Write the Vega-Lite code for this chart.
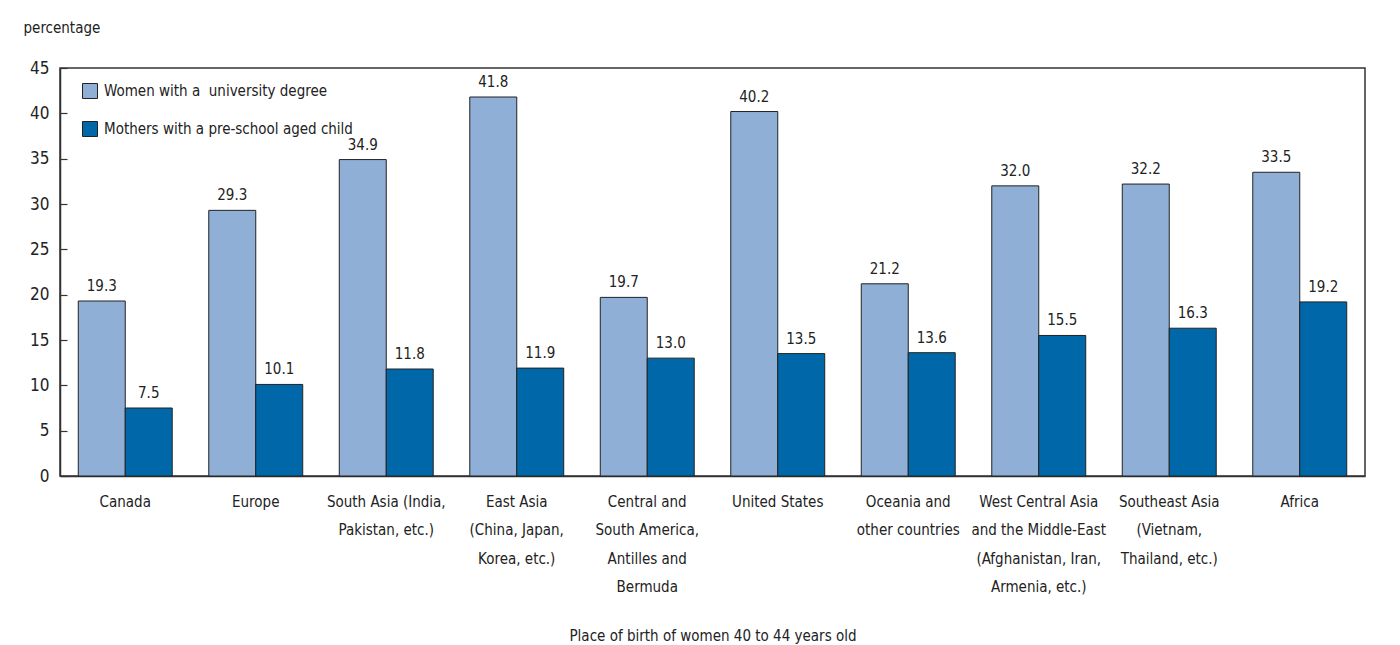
{
  "$schema": "https://vega.github.io/schema/vega-lite/v6.json",
  "width": 1305,
  "height": 408,
  "autosize": {"type": "none"},
  "padding": {"left": 60, "top": 68, "right": 35, "bottom": 169},
  "background": "white",
  "config": {
    "font": "DejaVu Sans Condensed",
    "view": {"stroke": "#333", "strokeWidth": 1.5},
    "axis": {
      "labelColor": "#222",
      "titleColor": "#222",
      "labelFontSize": 15,
      "titleFontSize": 15,
      "titleFontWeight": "normal",
      "domainColor": "#333",
      "domainWidth": 1.5,
      "tickColor": "#333",
      "tickWidth": 1.2,
      "grid": false
    }
  },
  "data": {
    "values": [
      {"place": "Canada", "group": "Women with a\u00a0 university degree", "pct": 19.3},
      {"place": "Canada", "group": "Mothers with a pre-school aged child", "pct": 7.5},
      {"place": "Europe", "group": "Women with a\u00a0 university degree", "pct": 29.3},
      {"place": "Europe", "group": "Mothers with a pre-school aged child", "pct": 10.1},
      {"place": "South Asia (India,\nPakistan, etc.)", "group": "Women with a\u00a0 university degree", "pct": 34.9},
      {"place": "South Asia (India,\nPakistan, etc.)", "group": "Mothers with a pre-school aged child", "pct": 11.8},
      {"place": "East Asia\n(China, Japan,\nKorea, etc.)", "group": "Women with a\u00a0 university degree", "pct": 41.8},
      {"place": "East Asia\n(China, Japan,\nKorea, etc.)", "group": "Mothers with a pre-school aged child", "pct": 11.9},
      {"place": "Central and\nSouth America,\nAntilles and\nBermuda", "group": "Women with a\u00a0 university degree", "pct": 19.7},
      {"place": "Central and\nSouth America,\nAntilles and\nBermuda", "group": "Mothers with a pre-school aged child", "pct": 13.0},
      {"place": "United States", "group": "Women with a\u00a0 university degree", "pct": 40.2},
      {"place": "United States", "group": "Mothers with a pre-school aged child", "pct": 13.5},
      {"place": "Oceania and\nother countries", "group": "Women with a\u00a0 university degree", "pct": 21.2},
      {"place": "Oceania and\nother countries", "group": "Mothers with a pre-school aged child", "pct": 13.6},
      {"place": "West Central Asia\nand the Middle-East\n(Afghanistan, Iran,\nArmenia, etc.)", "group": "Women with a\u00a0 university degree", "pct": 32.0},
      {"place": "West Central Asia\nand the Middle-East\n(Afghanistan, Iran,\nArmenia, etc.)", "group": "Mothers with a pre-school aged child", "pct": 15.5},
      {"place": "Southeast Asia\n(Vietnam,\nThailand, etc.)", "group": "Women with a\u00a0 university degree", "pct": 32.2},
      {"place": "Southeast Asia\n(Vietnam,\nThailand, etc.)", "group": "Mothers with a pre-school aged child", "pct": 16.3},
      {"place": "Africa", "group": "Women with a\u00a0 university degree", "pct": 33.5},
      {"place": "Africa", "group": "Mothers with a pre-school aged child", "pct": 19.2}
    ]
  },
  "encoding": {
    "x": {
      "field": "place",
      "type": "nominal",
      "sort": null,
      "scale": {"paddingInner": 0.28, "paddingOuter": 0.14},
      "axis": {
        "title": "Place of birth of women 40 to 44 years old",
        "labelExpr": "split(datum.value, '\\n')",
        "labelAngle": 0,
        "labelLimit": 0,
        "ticks": false,
        "labelPadding": 18,
        "labelLineHeight": 28.5,
        "titleY": 159,
        "titleBaseline": "middle"
      }
    },
    "xOffset": {
      "field": "group",
      "sort": ["Women with a\u00a0 university degree", "Mothers with a pre-school aged child"]
    },
    "y": {
      "field": "pct",
      "type": "quantitative",
      "scale": {"domain": [0, 45]},
      "axis": {
        "title": "percentage",
        "values": [0, 5, 10, 15, 20, 25, 30, 35, 40, 45],
        "tickSize": -7,
        "labelPadding": 18,
        "labelFontSize": 17,
        "titleAngle": 0,
        "titleAlign": "left",
        "titleBaseline": "middle",
        "titleX": -37,
        "titleY": -41
      }
    }
  },
  "layer": [
    {
      "mark": {"type": "bar", "stroke": "#222", "strokeWidth": 1},
      "encoding": {
        "color": {
          "field": "group",
          "type": "nominal",
          "sort": ["Women with a\u00a0 university degree", "Mothers with a pre-school aged child"],
          "scale": {"range": ["#8FAFD6", "#0068A9"]},
          "legend": {
            "title": null,
            "orient": "none",
            "legendX": 22,
            "legendY": 15,
            "symbolType": "square",
            "symbolSize": 225,
            "symbolStrokeColor": "#222",
            "symbolStrokeWidth": 1,
            "symbolOpacity": 1,
            "labelFontSize": 15,
            "labelColor": "#222",
            "labelLimit": 0,
            "labelOffset": 6,
            "rowPadding": 18
          }
        }
      }
    },
    {
      "mark": {"type": "text", "baseline": "bottom", "dy": -7, "fontSize": 15, "color": "#222"},
      "encoding": {
        "text": {"field": "pct", "type": "quantitative", "format": ".1f"}
      }
    }
  ]
}
